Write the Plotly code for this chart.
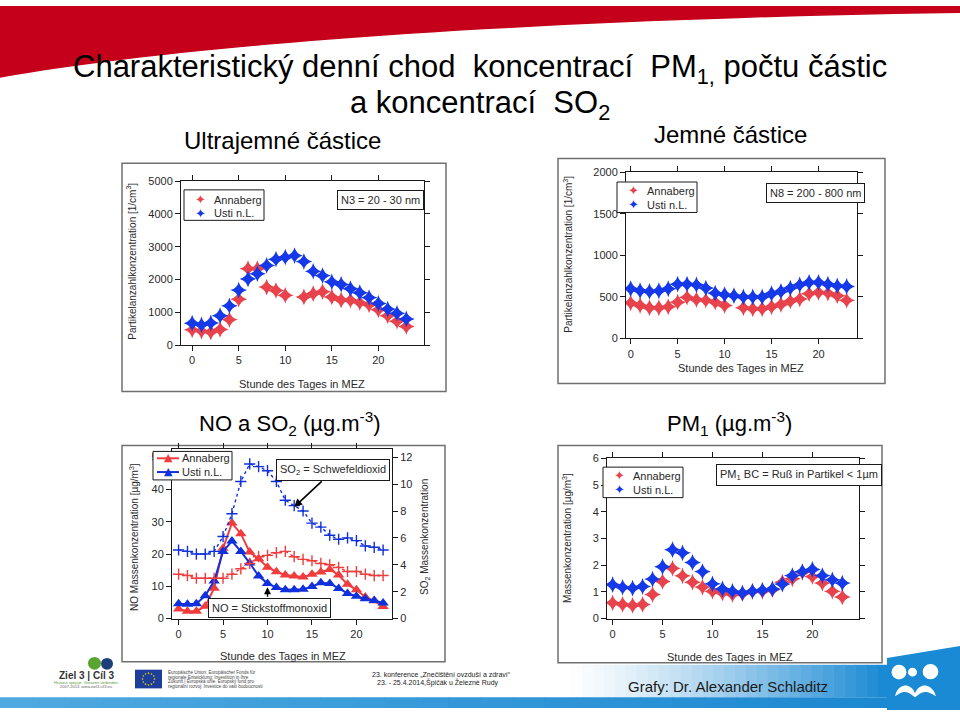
import math
import plotly.graph_objects as go

# ---------------- data ----------------
hours = list(range(24))
x_ticks = [0, 5, 10, 15, 20]

n3_annaberg = [470, 430, 400, 480, 780, 1400, 2330, 2330, 1770, 1670, 1520, None, 1470, 1570, 1630,
               1470, 1380, 1370, 1300, 1230, 1080, 900, 730, 570]
n3_usti = [670, 620, 680, 900, 1200, 1680, 2020, 2180, 2430, 2620, 2680, 2730, 2550, 2250, 2120,
           1930, 1850, 1720, 1600, 1450, 1270, 1100, 970, 800]

n8_annaberg = [427, 395, 368, 368, 380, 435, 494, 466, 458, 435, 395, None, 368, 356, 356,
               380, 407, 447, 474, 537, 553, 545, 514, 458]
n8_usti = [597, 573, 565, 573, 597, 652, 652, 644, 605, 545, 526, 514, 498, 498, 498,
           537, 565, 605, 644, 672, 672, 652, 632, 624]

no_annaberg = [3.0, 2.3, 2.3, 3.8, 9.4, 21.8, 29.6, 26.3, 20.6, 18.5, 15.9, 14.5, 13.5, 13.2, 12.9,
               13.7, 14.4, 15.2, 13.5, 10.6, 8.9, 6.7, 5.5, 3.7]
no_usti = [4.6, 4.4, 4.6, 7.1, 11.6, 20.8, 24.0, 20.8, 17.2, 13.2, 10.9, 9.6, 8.9, 8.9, 9.1,
           9.9, 11.1, 10.9, 9.3, 7.8, 6.9, 6.1, 5.6, 4.8]
so2_annaberg = [3.3, 3.2, 3.0, 3.0, 3.0, 3.0, 3.3, 3.7, 4.1, 4.6, 4.7, 4.9, 5.0, 4.6, 4.4,
                4.3, 4.1, 4.0, 3.8, 3.5, 3.5, 3.3, 3.2, 3.2]
so2_usti = [5.1, 5.0, 4.8, 4.8, 5.0, 6.1, 7.8, 10.2, 11.5, 11.3, 11.0, 10.2, 8.8, 8.4, 8.0,
            7.1, 6.8, 6.2, 5.9, 6.0, 5.8, 5.4, 5.3, 5.1]

pm1_annaberg = [0.59, 0.53, 0.49, 0.53, 0.90, 1.39, 1.88, 1.60, 1.36, 1.18, 1.02, 0.96, 0.90, 0.93, 1.02,
                1.02, 1.08, 1.36, 1.49, 1.73, 1.57, 1.33, 1.02, 0.81]
pm1_usti = [1.27, 1.17, 1.14, 1.20, 1.48, 1.94, 2.58, 2.46, 2.10, 1.76, 1.30, 1.11, 1.02, 0.96, 1.02,
            1.06, 1.11, 1.29, 1.61, 1.76, 1.84, 1.61, 1.45, 1.33]

n3_ticks = [0, 1000, 2000, 3000, 4000, 5000]
n8_ticks = [0, 500, 1000, 1500, 2000]
no_ticks = [0, 10, 20, 30, 40, 50]
so2_ticks = [0, 2, 4, 6, 8, 10, 12]
pm1_ticks = [0, 1, 2, 3, 4, 5, 6]

site_names = ["Annaberg", "Usti n.L."]

# ---------------- helpers ----------------
W, H = 960, 716


def X(px):
    return px / W


def Y(py):
    return 1 - py / H


RED = "#e8434c"
BLUE = "#1538e8"
RED3 = "#f03c3c"
BLUE3 = "#1030dc"
TXT = "#2a2a2a"
CH_FONT = "Liberation Sans, Arial, sans-serif"
SLIDE_FONT = "Liberation Sans, Arial, sans-serif"

fig = go.Figure()

star = dict(symbol="star-diamond", size=12, line=dict(width=0))

# panel 1
fig.add_trace(go.Scatter(x=hours, y=n3_annaberg, mode="markers", marker=dict(color=RED, **star),
                         xaxis="x", yaxis="y", name=site_names[0]))
fig.add_trace(go.Scatter(x=hours, y=n3_usti, mode="markers", marker=dict(color=BLUE, **star),
                         xaxis="x", yaxis="y", name=site_names[1]))
# panel 2
fig.add_trace(go.Scatter(x=hours, y=n8_annaberg, mode="markers", marker=dict(color=RED, **star),
                         xaxis="x2", yaxis="y2", name=site_names[0]))
fig.add_trace(go.Scatter(x=hours, y=n8_usti, mode="markers", marker=dict(color=BLUE, **star),
                         xaxis="x2", yaxis="y2", name=site_names[1]))
# panel 3 : SO2 (right axis), dotted with crosses
fig.add_trace(go.Scatter(x=hours, y=so2_annaberg, mode="lines+markers",
                         line=dict(color=RED3, width=1.4, dash="dot"),
                         marker=dict(symbol="cross-thin", size=8, line=dict(color=RED3, width=1.4)),
                         xaxis="x3", yaxis="y5", name="SO2 " + site_names[0]))
fig.add_trace(go.Scatter(x=hours, y=so2_usti, mode="lines+markers",
                         line=dict(color=BLUE3, width=1.4, dash="dot"),
                         marker=dict(symbol="cross-thin", size=8, line=dict(color=BLUE3, width=1.4)),
                         xaxis="x3", yaxis="y5", name="SO2 " + site_names[1]))
# panel 3 : NO (left axis)
fig.add_trace(go.Scatter(x=hours, y=no_annaberg, mode="lines+markers",
                         line=dict(color=RED3, width=2),
                         marker=dict(symbol="triangle-up", size=10, color=RED3),
                         xaxis="x3", yaxis="y3", name="NO " + site_names[0]))
fig.add_trace(go.Scatter(x=hours, y=no_usti, mode="lines+markers",
                         line=dict(color=BLUE3, width=2),
                         marker=dict(symbol="triangle-up", size=10, color=BLUE3),
                         xaxis="x3", yaxis="y3", name="NO " + site_names[1]))
# panel 4
fig.add_trace(go.Scatter(x=hours, y=pm1_annaberg, mode="markers", marker=dict(color=RED, **star),
                         xaxis="x4", yaxis="y4", name=site_names[0]))
fig.add_trace(go.Scatter(x=hours, y=pm1_usti, mode="markers", marker=dict(color=BLUE, **star),
                         xaxis="x4", yaxis="y4", name=site_names[1]))

ax_common = dict(showline=True, linecolor="#1a1a1a", linewidth=1, ticks="outside", tickcolor="#1a1a1a",
                 ticklen=5, showgrid=False, zeroline=False,
                 tickfont=dict(family=CH_FONT, size=11, color=TXT))

fig.update_layout(
    width=W, height=H, margin=dict(l=0, r=0, t=0, b=0),
    paper_bgcolor="white", plot_bgcolor="white", showlegend=False,
    xaxis=dict(domain=[X(181), X(424)], range=[-1.2, 24.9], anchor="y", tickvals=x_ticks,
               mirror="ticks", **ax_common),
    yaxis=dict(domain=[Y(345), Y(178)], range=[0, 5000], anchor="x", tickvals=n3_ticks,
               mirror="ticks", **ax_common),
    xaxis2=dict(domain=[X(626), X(857)], range=[-0.5, 24.1], anchor="y2", tickvals=x_ticks,
                mirror="ticks", **ax_common),
    yaxis2=dict(domain=[Y(338), Y(169)], range=[0, 2000], anchor="x2", tickvals=n8_ticks,
                mirror="ticks", **ax_common),
    xaxis3=dict(domain=[X(172), X(392)], range=[-0.74, 24.0], anchor="y3", tickvals=x_ticks,
                mirror="ticks", **ax_common),
    yaxis3=dict(domain=[Y(623), Y(451)], range=[0, 52.4], anchor="x3", tickvals=no_ticks,
                mirror=False, **ax_common),
    yaxis5=dict(range=[0, 12.58], anchor="x3", overlaying="y3", side="right", tickvals=so2_ticks,
                **ax_common),
    xaxis4=dict(domain=[X(607), X(859)], range=[-0.56, 24.67], anchor="y4", tickvals=x_ticks,
                mirror="ticks", **ax_common),
    yaxis4=dict(domain=[Y(623), Y(460)], range=[0, 6], anchor="x4", tickvals=pm1_ticks,
                mirror="ticks", **ax_common),
)

shapes = []
annots = []


def ptxt(px, py, text, size, family=CH_FONT, color=TXT, angle=0, xanchor="center", yanchor="middle", **kw):
    annots.append(dict(x=X(px), y=Y(py), xref="paper", yref="paper", text=text, showarrow=False,
                       textangle=angle, xanchor=xanchor, yanchor=yanchor,
                       font=dict(family=family, size=size, color=color), **kw))


def poly_px(pts):
    s = "M " + " L ".join(f"{X(a):.5f},{Y(b):.5f}" for a, b in pts)
    return s + " Z"


def bezier(p0, p1, p2, p3, n=40):
    out = []
    for i in range(n + 1):
        t = i / n
        u = 1 - t
        out.append((u ** 3 * p0[0] + 3 * u * u * t * p1[0] + 3 * u * t * t * p2[0] + t ** 3 * p3[0],
                    u ** 3 * p0[1] + 3 * u * u * t * p1[1] + 3 * u * t * t * p2[1] + t ** 3 * p3[1]))
    return out


# ---------- slide decoration ----------
banner = [(0, 0), (960, 0)] + bezier((960, 7), (520, 14), (180, 40), (0, 73))
shapes.append(dict(type="path", xref="paper", yref="paper", layer="above",
                   path=poly_px(banner), fillcolor="#c4001a", line=dict(width=0)))

# bottom right gradient band
n_steps = 30
for i in range(n_steps):
    t = i / (n_steps - 1)
    x0 = 560 + i * (888 - 560) / n_steps
    x1 = 560 + (i + 1) * (888 - 560) / n_steps + 0.5
    r = int(255 + (26 - 255) * t ** 1.3)
    g = int(255 + (138 - 255) * t ** 1.3)
    b = int(255 + (212 - 255) * t ** 1.3)
    shapes.append(dict(type="rect", xref="paper", yref="paper", layer="below",
                       x0=X(x0), x1=X(x1), y0=Y(703), y1=Y(670),
                       fillcolor=f"rgb({r},{g},{b})", line=dict(width=0)))
# full-width bottom band
for i in range(n_steps):
    t = i / (n_steps - 1)
    x0 = i * 960 / n_steps
    x1 = (i + 1) * 960 / n_steps + 0.5
    r = int(80 + (24 - 80) * t)
    g = int(170 + (134 - 170) * t)
    b = int(225 + (208 - 225) * t)
    shapes.append(dict(type="rect", xref="paper", yref="paper", layer="below",
                       x0=X(x0), x1=X(x1), y0=Y(714), y1=Y(703),
                       fillcolor=f"rgb({r},{g},{b})", line=dict(width=0)))
# logo block
shapes.append(dict(type="path", xref="paper", yref="paper", layer="below",
                   path=poly_px([(887, 663), (960, 651), (960, 716), (887, 716)]),
                   fillcolor="#1a8ad4", line=dict(width=0)))
for cx, cy, rr in [(899, 677.5, 7.5), (930.5, 677, 7.8), (912.5, 677.5, 4.5)]:
    shapes.append(dict(type="circle", xref="paper", yref="paper", layer="below",
                       x0=X(cx - rr), x1=X(cx + rr), y0=Y(cy + rr), y1=Y(cy - rr),
                       fillcolor="white", line=dict(width=0)))
wave = (bezier((895, 702), (898, 688), (911, 688), (915, 699), 12)
        + bezier((915, 699), (919, 688), (932, 688), (936, 702), 12)
        + bezier((936, 702), (926, 696), (924, 696), (915, 703), 12)
        + bezier((915, 703), (906, 696), (904, 696), (895, 702), 12))
shapes.append(dict(type="path", xref="paper", yref="paper", layer="below",
                   path=poly_px(wave), fillcolor="white", line=dict(width=0)))

# left logos
shapes.append(dict(type="circle", xref="paper", yref="paper", layer="below",
                   x0=X(88), x1=X(101), y0=Y(675), y1=Y(662), fillcolor="#5aa532", line=dict(width=0)))
shapes.append(dict(type="circle", xref="paper", yref="paper", layer="below",
                   x0=X(101), x1=X(113), y0=Y(675), y1=Y(663), fillcolor="#1f3f7a", line=dict(width=0)))
ptxt(86, 681, "<b>Ziel 3 | Cíl 3</b>", 10, color="#333")
ptxt(86, 688, "Hranice spojuje. Grenzen verbinden.", 4, color="#5a9a3a")
ptxt(86, 692, "2007-2013, www.ziel3-cil3.eu", 4, color="#666")
shapes.append(dict(type="rect", xref="paper", yref="paper", layer="below",
                   x0=X(135), x1=X(162), y0=Y(694), y1=Y(675), fillcolor="#1d3f9a", line=dict(width=0)))
for k in range(12):
    a = 2 * math.pi * k / 12
    sx = 148.5 + 6 * math.cos(a)
    sy = 684.5 + 6 * math.sin(a)
    shapes.append(dict(type="circle", xref="paper", yref="paper", layer="below",
                       x0=X(sx - 0.8), x1=X(sx + 0.8), y0=Y(sy + 0.8), y1=Y(sy - 0.8),
                       fillcolor="#f5d000", line=dict(width=0)))
eu_lines = ["Europäische Union. Europäischer Fonds für",
            "regionale Entwicklung: Investition in Ihre",
            "Zukunft | Evropská unie. Evropský fond pro",
            "regionální rozvoj: Investice do vaší budoucnosti"]
for k, line in enumerate(eu_lines):
    ptxt(166, 678 + 4.6 * k, line, 4.5, color="#444", xanchor="left")

# footer texts
ptxt(441, 680, "23. konference „Znečištění ovzduší a zdraví“", 7, family=SLIDE_FONT, color="#222")
ptxt(438, 688, "23. - 25.4.2014,Špičák u Železné Rudy", 7, family=SLIDE_FONT, color="#222")
ptxt(728, 692, "Grafy: Dr. Alexander Schladitz", 15, family=SLIDE_FONT, color="#1a1a1a")

# titles
ptxt(480, 64, "Charakteristický denní chod  koncentrací  PM<sub>1,</sub> počtu částic", 31,
     family=SLIDE_FONT, color="black")
ptxt(480, 101, "a koncentrací  SO<sub>2</sub>", 31, family=SLIDE_FONT, color="black")
ptxt(282, 137, "Ultrajemné částice", 24, family=SLIDE_FONT, color="black")
ptxt(730, 131, "Jemné částice", 24, family=SLIDE_FONT, color="black")
ptxt(290, 425, "NO a SO<sub>2</sub> (µg.m<sup>-3</sup>)", 22, family=SLIDE_FONT, color="black")
ptxt(729, 425, "PM<sub>1</sub> (µg.m<sup>-3</sup>)", 22, family=SLIDE_FONT, color="black")

# panel frames
for x0, y0, x1, y1 in [(122, 160, 446, 392), (558, 155, 885, 384), (122, 447, 445, 667), (558, 447, 882, 668)]:
    shapes.append(dict(type="rect", xref="paper", yref="paper", layer="below",
                       x0=X(x0), x1=X(x1), y0=Y(y1), y1=Y(y0),
                       fillcolor="rgba(0,0,0,0)", line=dict(color="#707070", width=1.5)))

# axis titles
ptxt(131, 260, "Partikelanzahlkonzentration [1/cm<sup>3</sup>]", 10, angle=-90)
ptxt(302, 384, "Stunde des Tages in MEZ", 11)
ptxt(568, 253, "Partikelanzahlkonzentration [1/cm<sup>3</sup>]", 10, angle=-90)
ptxt(741, 368, "Stunde des Tages in MEZ", 11)
ptxt(134, 540, "NO Massenkonzentration [µg/m<sup>3</sup>]", 10, angle=-90)
ptxt(425, 540, "SO<sub>2</sub> Massenkonzentration", 10, angle=-90)
ptxt(283, 661, "Stunde des Tages in MEZ", 11)
ptxt(567, 541, "Massenkonzentration [µg/m<sup>3</sup>]", 10, angle=-90)
ptxt(730, 662, "Stunde des Tages in MEZ", 11)


# info boxes
def infobox(px, py, text):
    annots.append(dict(x=X(px), y=Y(py), xref="paper", yref="paper", text=text, showarrow=False,
                       xanchor="center", yanchor="middle", bgcolor="white", bordercolor="#1a1a1a",
                       borderwidth=1, borderpad=3, font=dict(family=CH_FONT, size=11, color=TXT)))


infobox(380, 197, "N3 = 20 - 30 nm")
infobox(815, 190, "N8 = 200 - 800 nm")
infobox(333, 472, "SO<sub>2</sub> = Schwefeldioxid")
infobox(269, 612, "NO = Stickstoffmonoxid")
infobox(799, 477, "PM<sub>1</sub> BC = Ruß in Partikel &lt; 1µm")

# arrows
annots.append(dict(x=13, y=8.3, xref="x3", yref="y5", ax=29, ay=-27, axref="pixel", ayref="pixel",
                   text="", showarrow=True, arrowhead=2, arrowsize=1, arrowwidth=1.6, arrowcolor="black"))
annots.append(dict(x=10, y=9.7, xref="x3", yref="y3", ax=0, ay=11, text="", showarrow=True,
                   arrowhead=2, arrowsize=1, arrowwidth=1.4, arrowcolor="black"))


# legends (manual boxes)
def legend_box(x0, y0, x1, y1, rows, sym_x, text_x, kind):
    shapes.append(dict(type="rect", xref="paper", yref="paper", layer="above",
                       x0=X(x0), x1=X(x1), y0=Y(y1), y1=Y(y0), fillcolor="white",
                       line=dict(color="#1a1a1a", width=1)))
    for (ry, name, col) in rows:
        if kind == "star":
            ptxt(sym_x, ry, "✦", 13, family="DejaVu Sans", color=col)
        else:
            shapes.append(dict(type="line", xref="paper", yref="paper", layer="above",
                               x0=X(sym_x - 11), x1=X(sym_x + 11), y0=Y(ry), y1=Y(ry),
                               line=dict(color=col, width=2)))
            ptxt(sym_x, ry - 1, "▲", 11, family="DejaVu Sans", color=col)
        ptxt(text_x, ry, name, 11, xanchor="left")


legend_box(184, 187, 264, 218, [(197, site_names[0], RED), (211, site_names[1], BLUE)], 200, 212, "star")
legend_box(617, 179, 697, 210, [(188, site_names[0], RED), (202, site_names[1], BLUE)], 633, 645, "star")
legend_box(153, 453, 232, 482, [(460, site_names[0], RED3), (474, site_names[1], BLUE3)], 168, 180, "tri")
legend_box(603, 469, 683, 500, [(478, site_names[0], RED), (492, site_names[1], BLUE)], 619, 631, "star")

fig.update_layout(shapes=shapes, annotations=annots)
fig.write_html("out.html", config={"displayModeBar": False},
               post_script="document.body.style.margin='0px';")
